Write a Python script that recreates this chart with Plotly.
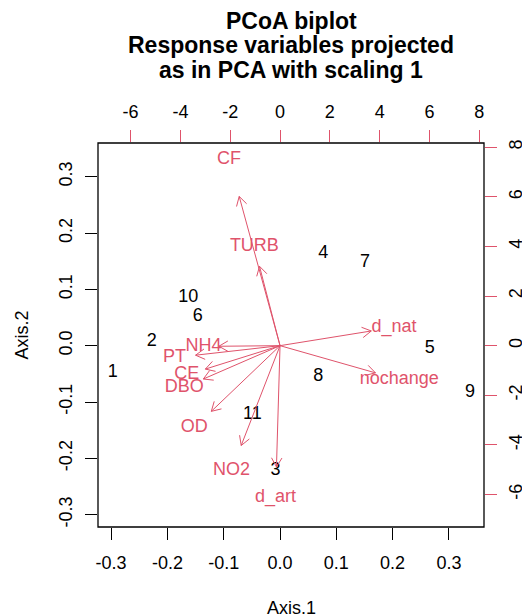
import math
import plotly.graph_objects as go

# ---- data: site scores (primary axes) ----
site_labels = ["1", "2", "3", "4", "5", "6", "7", "8", "9", "10", "11"]
site_x = [-0.297, -0.228, -0.008, 0.077, 0.266, -0.146, 0.151, 0.068, 0.3375, -0.163, -0.049]
site_y = [-0.047, 0.008, -0.222, 0.164, -0.005, 0.052, 0.148, -0.054, -0.083, 0.086, -0.123]

# ---- data: projected response variables (secondary axes) ----
var_labels = ["CF", "TURB", "d_nat", "nochange", "NH4", "PT", "CE", "DBO", "OD", "NO2", "d_art"]
var_x = [-2.05, -1.03, 4.58, 4.79, -3.07, -4.24, -3.75, -3.85, -3.45, -1.95, -0.18]
var_y = [7.52, 4.00, 0.74, -1.37, -0.03, -0.48, -1.18, -1.68, -3.31, -5.03, -6.11]

# ---- tick labels ----
prim_ticks = [-0.3, -0.2, -0.1, 0.0, 0.1, 0.2, 0.3]
prim_ticktext = ["-0.3", "-0.2", "-0.1", "0.0", "0.1", "0.2", "0.3"]
sec_ticks = [-6, -4, -2, 0, 2, 4, 6, 8]
sec_ticktext = ["-6", "-4", "-2", "0", "2", "4", "6", "8"]

RED = "#DF536B"
FONT = "Liberation Sans, Arial, Helvetica, sans-serif"
ARROW_SCALE = 0.8      # R biplot draws arrows to 0.8 of the label position
HEAD_LEN = 0.42        # arrow head length in secondary-axis units
HEAD_ANG = math.radians(30)

# build arrow paths (shaft + open V head) from the variable values
ax_pts, ay_pts = [], []
for vx, vy in zip(var_x, var_y):
    tx, ty = vx * ARROW_SCALE, vy * ARROW_SCALE
    th = math.atan2(ty, tx)
    w1 = (tx - HEAD_LEN * math.cos(th - HEAD_ANG), ty - HEAD_LEN * math.sin(th - HEAD_ANG))
    w2 = (tx - HEAD_LEN * math.cos(th + HEAD_ANG), ty - HEAD_LEN * math.sin(th + HEAD_ANG))
    ax_pts += [0, tx, None, w1[0], tx, w2[0], None]
    ay_pts += [0, ty, None, w1[1], ty, w2[1], None]

fig = go.Figure()
fig.add_trace(go.Scatter(
    x=site_x, y=site_y, text=site_labels, mode="text",
    textfont=dict(family=FONT, size=18, color="black"),
    textposition="middle center", xaxis="x", yaxis="y", hoverinfo="skip"))
fig.add_trace(go.Scatter(
    x=ax_pts, y=ay_pts, mode="lines", line=dict(color=RED, width=1),
    xaxis="x2", yaxis="y2", hoverinfo="skip"))
fig.add_trace(go.Scatter(
    x=var_x, y=var_y, text=var_labels, mode="text",
    textfont=dict(family=FONT, size=18, color=RED),
    textposition="middle center", xaxis="x2", yaxis="y2", hoverinfo="skip"))

tickfont = dict(family=FONT, size=18, color="black")
common = dict(showgrid=False, zeroline=False, showline=False, ticks="outside",
              ticklen=12, tickwidth=1, tickfont=tickfont, automargin=False)

fig.update_layout(
    width=522, height=616,
    margin=dict(l=98, r=38, t=143, b=89, pad=0, autoexpand=False),
    paper_bgcolor="white", plot_bgcolor="white",
    showlegend=False,
    xaxis=dict(range=[-0.3233, 0.3623], tickvals=prim_ticks, ticktext=prim_ticktext,
               tickcolor="black", ticklabelstandoff=7, **common),
    yaxis=dict(range=[-0.322, 0.360], tickvals=prim_ticks, ticktext=prim_ticktext,
               tickcolor="black", tickangle=-90, ticklabelstandoff=6, **common),
    xaxis2=dict(range=[-7.31, 8.19], tickvals=sec_ticks, ticktext=sec_ticktext,
                overlaying="x", side="top", anchor="y", tickcolor=RED,
                ticklabelstandoff=5, **common),
    yaxis2=dict(range=[-7.31, 8.17], tickvals=sec_ticks, ticktext=sec_ticktext,
                overlaying="y", side="right", anchor="x", tickcolor=RED,
                tickangle=-90, ticklabelstandoff=3, **common),
    shapes=[dict(type="rect", xref="paper", yref="paper", x0=0, x1=1, y0=0, y1=1,
                 line=dict(color="black", width=1.3), layer="above")],
)

# title lines and axis titles
H = 384.0  # plot height in px
W = 386.0  # plot width in px
def py(pix):
    return (527 - pix) / H

title_lines = ["PCoA biplot", "Response variables projected", "as in PCA with scaling 1"]
title_centers = [20.8, 45.3, 69.8]
for txt, c in zip(title_lines, title_centers):
    fig.add_annotation(text="<b>%s</b>" % txt, xref="paper", yref="paper",
                       x=0.5, y=py(c), xanchor="center", yanchor="middle",
                       showarrow=False, font=dict(family=FONT, size=23, color="black"))

fig.add_annotation(text="Axis.1", xref="paper", yref="paper", x=0.5, y=py(607.5),
                   xanchor="center", yanchor="middle", showarrow=False,
                   font=dict(family=FONT, size=18, color="black"))
fig.add_annotation(text="Axis.2", xref="paper", yref="paper", x=(21.5 - 98) / W,
                   y=py(335), xanchor="center", yanchor="middle", showarrow=False,
                   textangle=-90, font=dict(family=FONT, size=18, color="black"))

fig.write_html("out.html")
